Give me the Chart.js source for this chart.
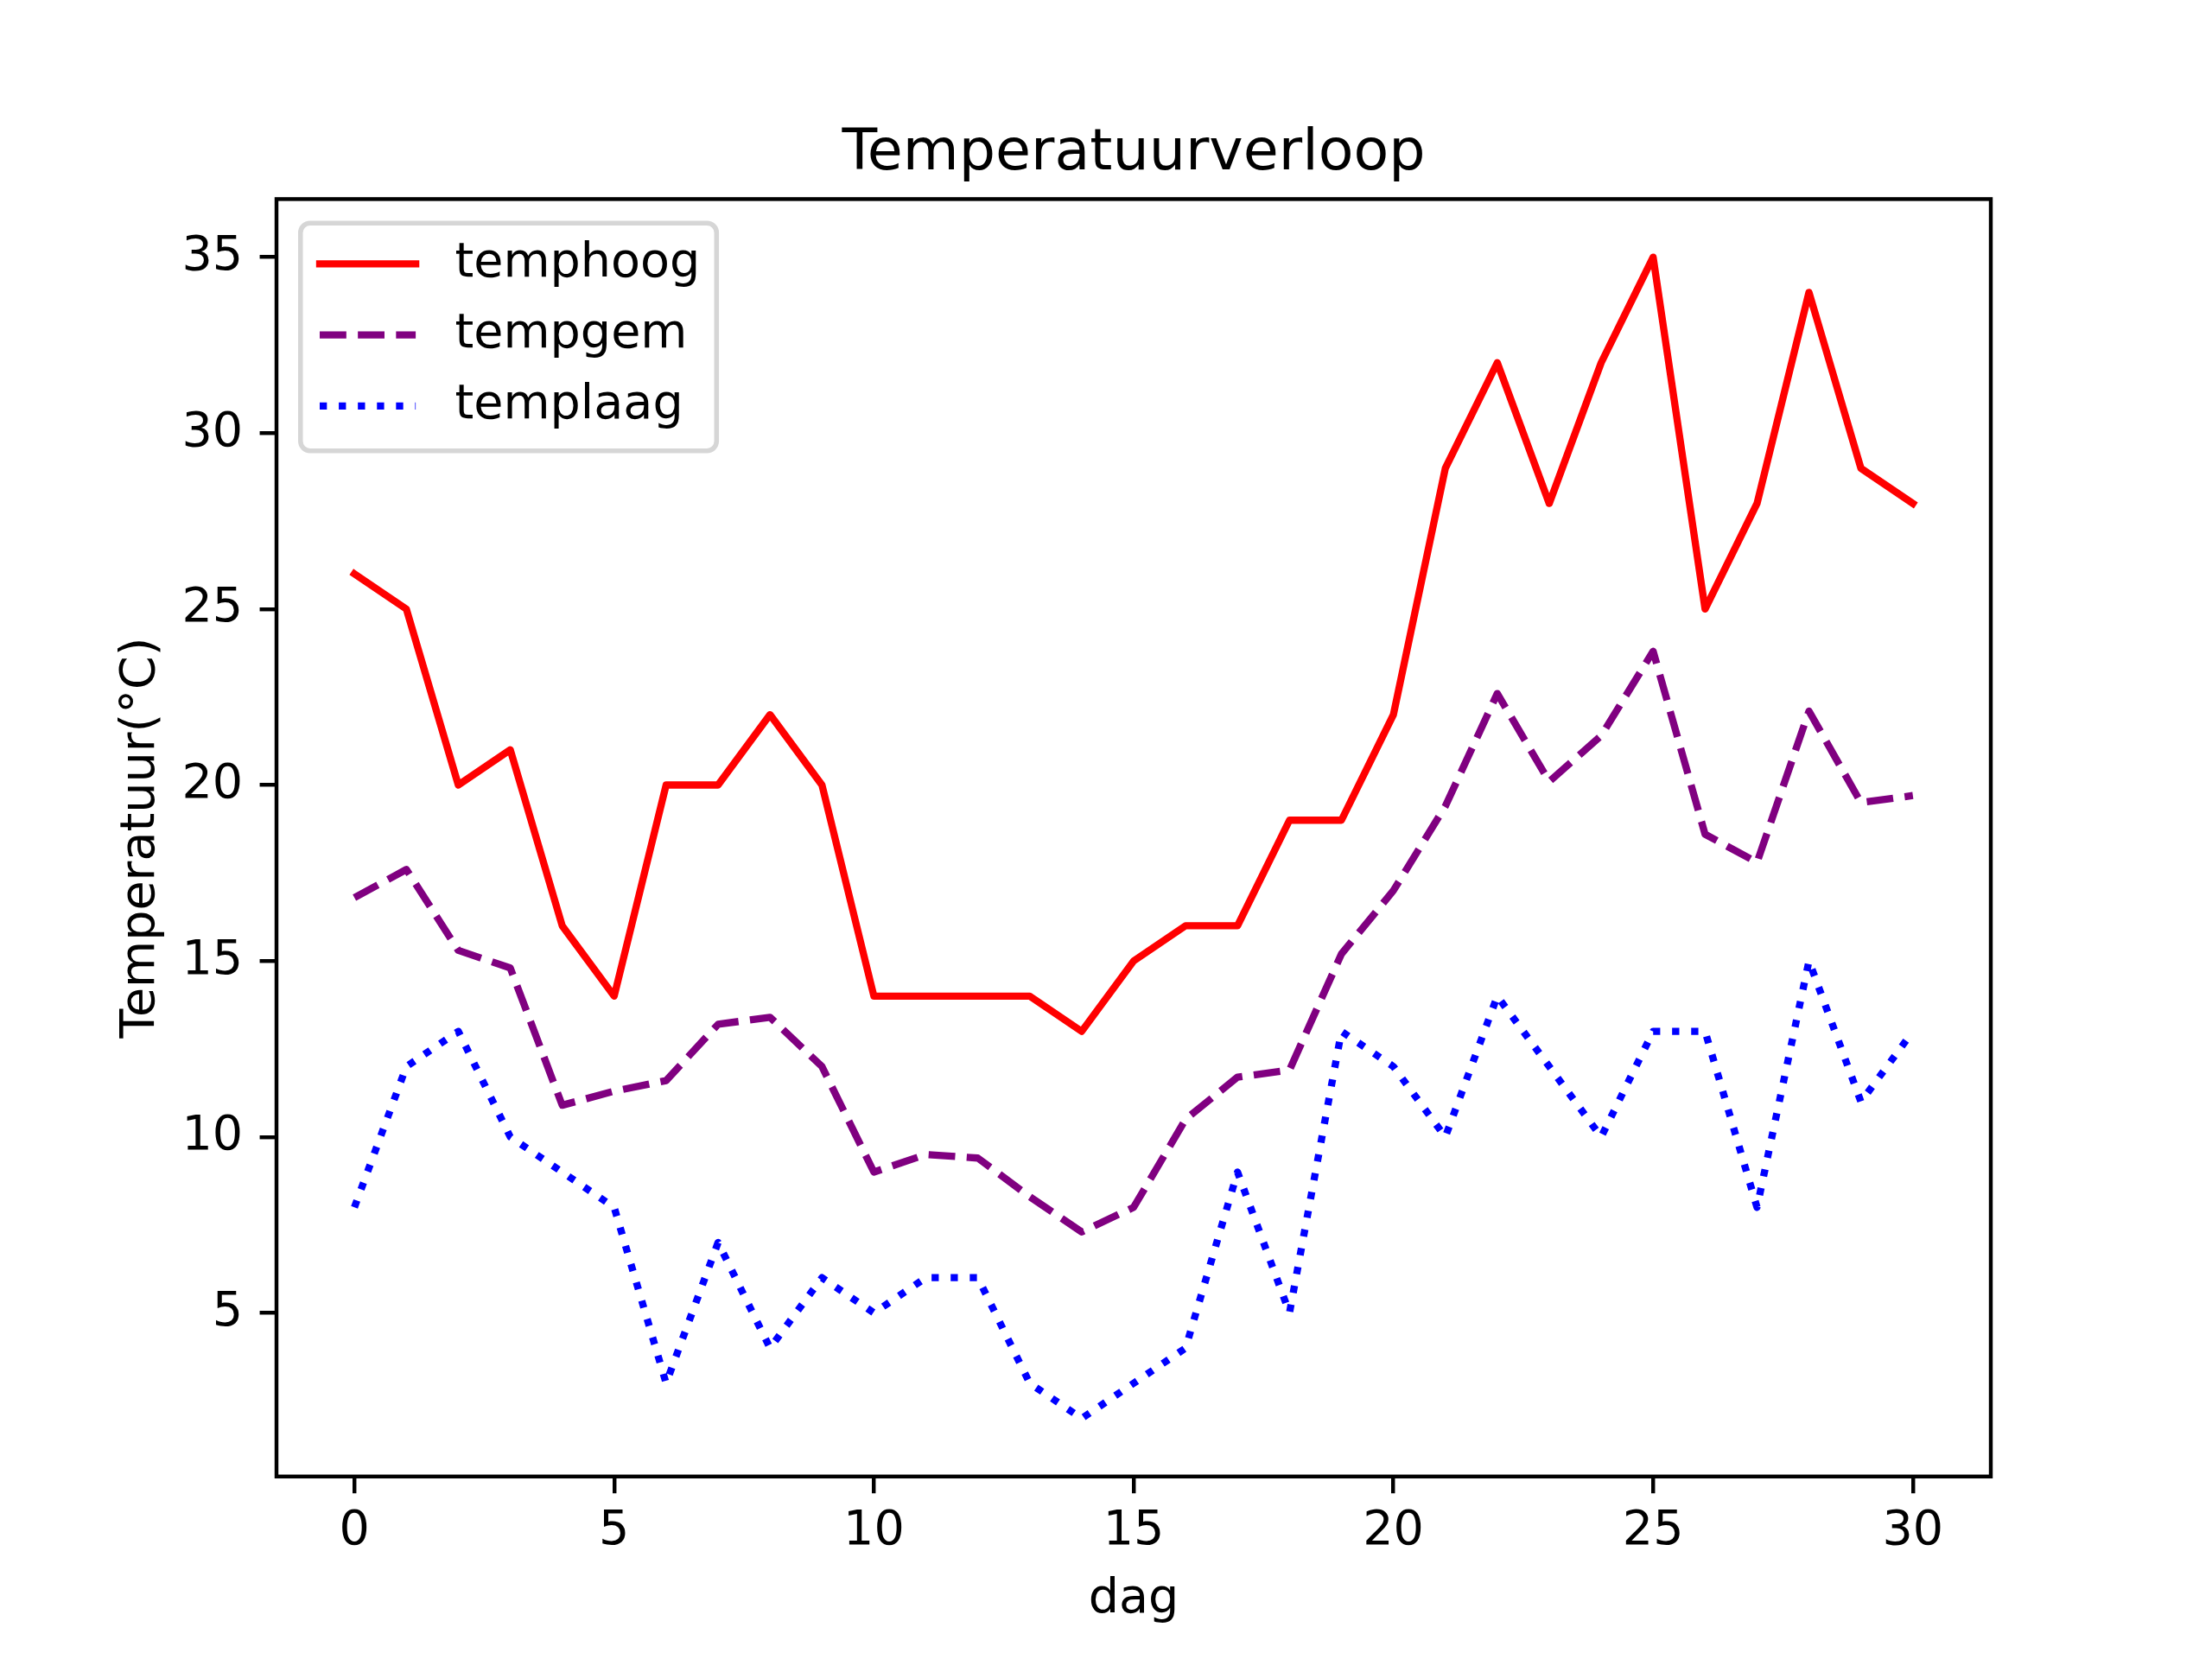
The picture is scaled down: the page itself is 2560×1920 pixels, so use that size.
<!DOCTYPE html>
<html>
<head>
<meta charset="utf-8">
<title>Temperatuurverloop</title>
<script src="https://cdn.jsdelivr.net/npm/chart.js@4.4.1/dist/chart.umd.min.js"></script>
<style>
  html, body { margin: 0; padding: 0; background: #ffffff; }
  canvas { display: block; }
</style>
</head>
<body>
<canvas id="tempChart" width="2560" height="1920"></canvas>
<script>
// data per dag
const days = [0, 1, 2, 3, 4, 5, 6, 7, 8, 9, 10, 11, 12, 13, 14, 15, 16, 17, 18, 19, 20, 21, 22, 23, 24, 25, 26, 27, 28, 29, 30];
const tempHoog = [26, 25, 20, 21, 16, 14, 20, 20, 22, 20, 14, 14, 14, 14, 13, 15, 16, 16, 19, 19, 22, 29, 32, 28, 32, 35, 25, 28, 34, 29, 28];
const tempGem = [16.8, 17.6, 15.3, 14.8, 10.9, 11.3, 11.6, 13.2, 13.4, 12.0, 9.0, 9.5, 9.4, 8.3, 7.3, 8.0, 10.5, 11.7, 11.9, 15.2, 17.0, 19.4, 22.6, 20.1, 21.4, 23.8, 18.6, 17.8, 22.1, 19.5, 19.7];
const tempLaag = [8, 12, 13, 10, 9, 8, 3, 7, 4, 6, 5, 6, 6, 3, 2, 3, 4, 9, 5, 13, 12, 10, 14, 12, 10, 13, 13, 8, 15, 11, 13];

// tick labels
const xTicks = [0, 5, 10, 15, 20, 25, 30];
const yTicks = [5, 10, 15, 20, 25, 30, 35];

// matplotlib-ish sizes at 400 dpi (1pt = 400/72 px)
const PT = 400 / 72;
const FONT = 'DejaVu Sans';
const LW = 1.5 * PT;

// autoscale like matplotlib: 5% margin
const allVals = tempHoog.concat(tempGem, tempLaag);
const lo = Math.min(...allVals), hi = Math.max(...allVals);
const yMin = lo - 0.05 * (hi - lo), yMax = hi + 0.05 * (hi - lo);
const xMin = days[0] - 0.05 * (days[days.length - 1] - days[0]);
const xMax = days[days.length - 1] + 0.05 * (days[days.length - 1] - days[0]);

const toPoints = (vals) => days.map((d, i) => ({ x: d, y: vals[i] }));

const data = {
  datasets: [{
    label: 'temphoog',
    data: toPoints(tempHoog),
    borderColor: '#ff0000',
    backgroundColor: '#ff0000',
    borderWidth: LW,
    borderCapStyle: 'square',
    borderJoinStyle: 'round',
    pointRadius: 0,
    tension: 0,
    yAxisID: 'y'
  },
  {
    label: 'tempgem',
    data: toPoints(tempGem),
    borderColor: '#800080',
    backgroundColor: '#800080',
    borderWidth: LW,
    borderDash: [3.7 * LW, 1.6 * LW],
    borderCapStyle: 'butt',
    borderJoinStyle: 'round',
    pointRadius: 0,
    tension: 0,
    yAxisID: 'y'
  },
  {
    label: 'templaag',
    data: toPoints(tempLaag),
    borderColor: '#0000ff',
    backgroundColor: '#0000ff',
    borderWidth: LW,
    borderDash: [1 * LW, 1.65 * LW],
    borderCapStyle: 'butt',
    borderJoinStyle: 'round',
    pointRadius: 0,
    tension: 0,
    yAxisID: 'y'
  }]
};

// white background, legend placement + frame, axes box
const backdrop = {
  id: 'backdrop',
  afterLayout(chart) {
    // legend sits inside the axes, upper left
    const area = chart.chartArea;
    const lg = chart.legend;
    lg.left = area.left + 23.3;
    lg.top = area.top + 20.5;
    lg.right = area.right;
    lg.bottom = area.bottom;
  },
  beforeDraw(chart) {
    const ctx = chart.ctx;
    ctx.save();
    ctx.fillStyle = '#ffffff';
    ctx.fillRect(0, 0, chart.width, chart.height);

    const boxes = chart.legend.legendHitBoxes;
    if (boxes && boxes.length) {
      const fs = 10 * PT;
      const left = boxes[0].left - 0.4 * fs;
      const top = boxes[0].top - 19.4;
      let right = 0;
      boxes.forEach((b) => { right = Math.max(right, b.left + b.width); });
      right += 19;
      const last = boxes[boxes.length - 1];
      const bottom = last.top + last.height + 24;
      ctx.beginPath();
      ctx.roundRect(left, top, right - left, bottom - top, 0.2 * fs);
      ctx.fillStyle = 'rgba(255,255,255,0.8)';
      ctx.fill();
      ctx.lineWidth = 1 * PT;
      ctx.strokeStyle = 'rgba(204,204,204,0.8)';
      ctx.stroke();
    }
    ctx.restore();
  },
  afterDatasetsDraw(chart) {
    const { ctx, chartArea } = chart;
    ctx.save();
    ctx.lineWidth = 0.8 * PT;
    ctx.strokeStyle = '#000000';
    ctx.strokeRect(chartArea.left, chartArea.top, chartArea.right - chartArea.left, chartArea.bottom - chartArea.top);
    ctx.restore();
  }
};

const tickGrid = {
  drawOnChartArea: false,
  drawTicks: true,
  tickLength: 3.5 * PT,
  tickWidth: 0.8 * PT,
  tickColor: '#000000',
  lineWidth: 0.8 * PT,
  color: '#000000'
};

const config = {
  type: 'line',
  data,
  options: {
    responsive: false,
    devicePixelRatio: 1,
    animation: false,
    events: [],
    layout: {
      padding: { left: 64, right: 0, top: 0, bottom: 0 }
    },
    plugins: {
      title: {
        display: true,
        text: 'Temperatuurverloop',
        color: '#000000',
        font: { family: FONT, size: 12 * PT, weight: 'normal', lineHeight: 1.2 },
        padding: { top: 139, bottom: 11.4 }
      },
      legend: {
        position: 'chartArea',
        align: 'start',
        labels: {
          color: '#000000',
          font: { family: FONT, size: 10 * PT },
          usePointStyle: true,
          pointStyle: 'line',
          pointStyleWidth: 2 * 10 * PT,
          padding: 26.7,
          generateLabels(chart) {
            // line samples taken from the dataset line style
            return chart.data.datasets.map((ds, i) => ({
              text: ' ' + ds.label,
              fillStyle: ds.borderColor,
              strokeStyle: ds.borderColor,
              fontColor: '#000000',
              lineWidth: ds.borderWidth,
              lineDash: ds.borderDash || [],
              lineCap: ds.borderCapStyle,
              pointStyle: 'line',
              hidden: false,
              datasetIndex: i
            }));
          }
        }
      },
      tooltip: { enabled: false }
    },
    scales: {
      x: {
        type: 'linear',
        position: 'bottom',
        min: xMin,
        max: xMax,
        afterBuildTicks: (s) => { s.ticks = xTicks.map((v) => ({ value: v })); },
        afterFit: (s) => { s.height = 1920 - 0.89 * 1920; },
        grid: tickGrid,
        border: { display: false },
        ticks: {
          color: '#000000',
          font: { family: FONT, size: 10 * PT },
          padding: 11,
          maxRotation: 0,
          autoSkip: false
        },
        title: {
          display: true,
          text: 'dag',
          color: '#000000',
          font: { family: FONT, size: 10 * PT, lineHeight: 1.2 },
          padding: { top: 0, bottom: 34.6 }
        }
      },
      y: {
        type: 'linear',
        position: 'left',
        min: yMin,
        max: yMax,
        afterBuildTicks: (s) => { s.ticks = yTicks.map((v) => ({ value: v })); },
        afterFit: (s) => { s.width = 320 - 64; },
        grid: tickGrid,
        border: { display: false },
        ticks: {
          color: '#000000',
          font: { family: FONT, size: 10 * PT },
          padding: 3.5 * PT,
          autoSkip: false
        },
        title: {
          display: true,
          text: 'Temperatuur(°C)',
          color: '#000000',
          font: { family: FONT, size: 10 * PT, lineHeight: 1.2 },
          padding: { top: 66, bottom: 0 }
        }
      },
      // empty right-hand strip so the axes end where matplotlib's do
      yRight: {
        type: 'linear',
        position: 'right',
        display: true,
        grid: { display: false },
        border: { display: false },
        ticks: { display: false },
        afterFit: (s) => { s.width = 2560 - 0.9 * 2560; }
      }
    }
  },
  plugins: [backdrop]
};

const ctx = document.getElementById('tempChart').getContext('2d');
const tempChart = new Chart(ctx, config);
</script>
</body>
</html>
